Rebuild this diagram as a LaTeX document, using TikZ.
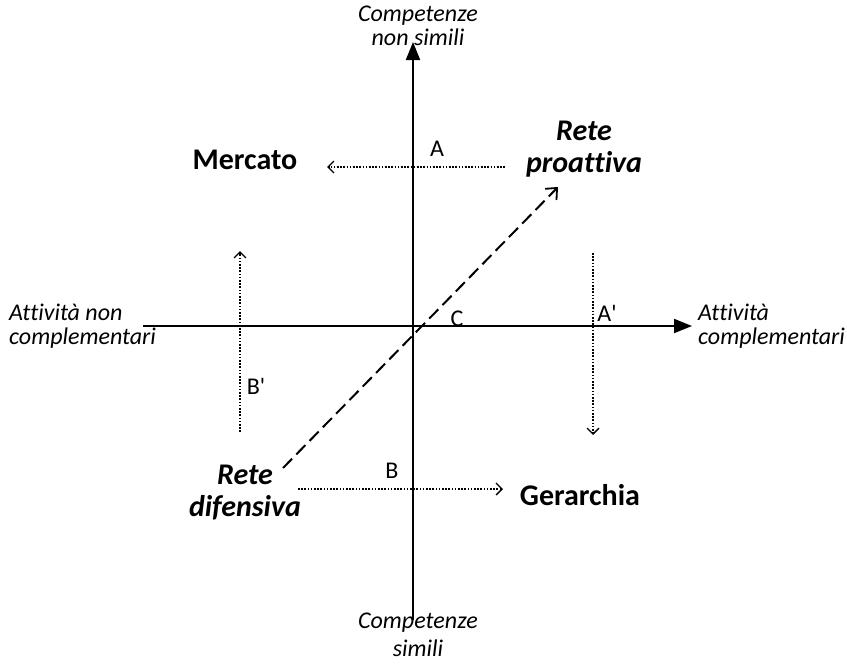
\documentclass[tikz,border=0pt]{standalone}
\usepackage{fontspec}
\setmainfont{Carlito}[Ligatures=NoCommon]
\usetikzlibrary{arrows.meta}

\tikzset{
	asse/.style={line width=2pt, -{Triangle[length=18pt,width=14pt]}},
	spostamento/.style={line width=1.6pt, dash pattern=on 1.6pt off 1.6pt, -{Straight Barb[length=6pt,width=12pt,line width=1.3pt]}},
	etichetta/.style={font=\fontsize{24}{28}\selectfont},
	estremo/.style={font=\fontsize{24}{24}\selectfont\itshape, align=left, inner sep=1pt},
	forma/.style={font=\fontsize{30}{32}\selectfont\bfseries},
	rete/.style={font=\fontsize{30}{32}\selectfont\bfseries\itshape, align=center},
}

\begin{document}
\begin{tikzpicture}[x=1pt,y=-1pt]
			
			\useasboundingbox (0,0) rectangle (847,664);
			
			% Punti degli assi
			\coordinate (ovest) at (143,326);
			\coordinate (est) at (692,326);
			\coordinate (sud) at (413,620);
			\coordinate (nord) at (413,42);
			
			% Disegnare gli assi
			\draw[asse] (ovest) -- (est);
			\draw[asse] (sud) -- (nord);
			
			% Etichette degli assi
			\node[estremo, align=center] (nonsimili) at (418,26) {Competenze\\non simili};
			\node[estremo, align=center, font=\fontsize{24}{28}\selectfont\itshape] (simili) at (418,635) {Competenze\\simili};
			\node[estremo, anchor=west] (noncompl) at (8,326) {Attività non\\complementari};
			\node[estremo, anchor=west] (compl) at (697,326) {Attività\\complementari};
			
			% Forme di governo
			\node[forma] (mercato) at (245,160) {Mercato};
			\node[forma] (gerarchia) at (580,495) {Gerarchia};
			\node[rete] (proattiva) at (584,149) {Rete\\proattiva};
			\node[rete] (difensiva) at (245,493) {Rete\\difensiva};
			
			% Spostamenti
			\coordinate (a1) at (505,167);
			\coordinate (a2) at (327,167);
			\coordinate (b1) at (298,489);
			\coordinate (b2) at (503,489);
			\coordinate (ap1) at (593,253);
			\coordinate (ap2) at (593,435);
			\coordinate (bp1) at (240,432);
			\coordinate (bp2) at (240,251);
			\draw[spostamento] (a1) -- (a2);
			\draw[spostamento] (b1) -- (b2);
			\draw[spostamento] (ap1) -- (ap2);
			\draw[spostamento] (bp1) -- (bp2);
			
			\node[etichetta] (A) at (437,149) {A};
			\node[etichetta] (B) at (392,471) {B};
			\node[etichetta] (Ap) at (607,313) {A\textquotesingle};
			\node[etichetta] (Bp) at (256,386) {B\textquotesingle};
			\node[etichetta] (C) at (457,319) {C};
			
			% Diagonale tratteggiata
			\coordinate (d1) at (283,468);
			\coordinate (d2) at (558,187);
			\draw[line width=2pt, dash pattern=on 13pt off 6pt, -{Straight Barb[length=9pt,width=16pt,line width=1.8pt]}] (d1) -- (d2);
			
		\end{tikzpicture}
\end{document}
